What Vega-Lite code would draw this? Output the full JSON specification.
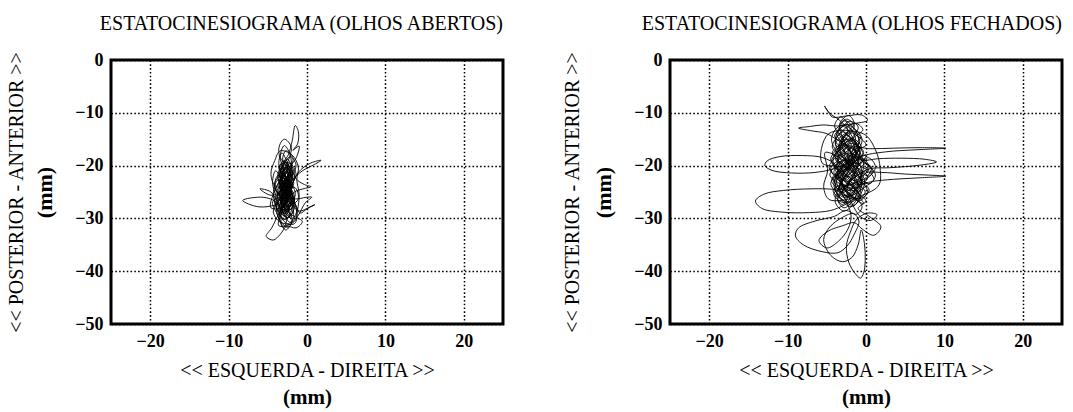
{
  "$schema": "https://vega.github.io/schema/vega-lite/v6.json",
  "background": "white",
  "padding": {"left": 4, "top": 12, "right": 2, "bottom": 0},
  "config": {
    "font": "Liberation Serif",
    "view": {"stroke": "black", "strokeWidth": 3},
    "concat": {"spacing": 55},
    "axis": {
      "labelFont": "Liberation Serif", "labelFontSize": 18, "labelFontWeight": "bold", "labelColor": "black",
      "titleFont": "Liberation Serif", "titleFontSize": 20, "titleFontWeight": "normal", "titleColor": "black",
      "ticks": false, "domain": false, "labelFlush": false, "labelOverlap": false,
      "gridColor": "black", "gridDash": [1.6, 2.2], "gridWidth": 1.5, "gridOpacity": 1, "labelPadding": 8
    }
  },
  "datasets": {
    "oa": [
      {"x":-2.5,"y":-24},{"x":-3.2,"y":-26.5},{"x":-2.1,"y":-28.3},{"x":-1.6,"y":-25.9},{"x":-2.9,"y":-22.4},{"x":-3.6,"y":-20.1},{"x":-2.2,"y":-19.5},{"x":-1.4,"y":-21.8},{"x":-2.7,"y":-24.9},{"x":-3.9,"y":-27.2},{"x":-3.1,"y":-30.1},{"x":-2.0,"y":-29.4},{"x":-1.8,"y":-26.6},{"x":-2.6,"y":-23.0},{"x":-3.4,"y":-21.1},{"x":-2.5,"y":-18.8},{"x":-1.9,"y":-20.7},{"x":-2.3,"y":-23.9},{"x":-3.3,"y":-25.5},{"x":-4.2,"y":-24.0},{"x":-3.6,"y":-22.2},{"x":-2.4,"y":-22.9},{"x":-1.5,"y":-25.2},{"x":-2.2,"y":-27.8},{"x":-3.5,"y":-28.9},{"x":-4.1,"y":-26.3},{"x":-3.0,"y":-24.1},{"x":-2.1,"y":-21.6},{"x":-2.8,"y":-19.9},{"x":-3.7,"y":-21.4},{"x":-3.2,"y":-24.6},{"x":-2.0,"y":-26.2},{"x":-1.3,"y":-28.5},{"x":-2.4,"y":-31.0},{"x":-3.4,"y":-29.6},{"x":-3.9,"y":-27.0},
      {"x":-5.6,"y":-26.0},{"x":-8.2,"y":-26.6},{"x":-6.2,"y":-27.8},{"x":-3.8,"y":-27.3},
      {"x":-2.6,"y":-25.8},{"x":-1.7,"y":-23.4},{"x":-2.3,"y":-20.9},{"x":-3.1,"y":-19.0},{"x":-2.7,"y":-17.2},{"x":-1.8,"y":-18.5},{"x":-2.2,"y":-21.0},{"x":-3.0,"y":-23.7},{"x":-3.8,"y":-25.9},{"x":-3.3,"y":-28.2},{"x":-2.5,"y":-29.9},{"x":-1.6,"y":-28.0},{"x":-1.9,"y":-25.1},{"x":-2.9,"y":-22.7},{"x":-3.6,"y":-24.8},{"x":-2.8,"y":-27.4},{"x":-2.1,"y":-24.4},{"x":-2.6,"y":-21.3},{"x":-3.3,"y":-20.2},
      {"x":-2.4,"y":-18.0},{"x":-1.9,"y":-15.4},{"x":-1.5,"y":-12.4},{"x":-1.1,"y":-13.6},{"x":-1.2,"y":-15.9},{"x":-1.8,"y":-17.1},{"x":-1.0,"y":-16.3},{"x":-1.4,"y":-18.6},{"x":-2.3,"y":-20.4},
      {"x":-2.8,"y":-22.0},{"x":-2.2,"y":-23.5},{"x":-3.0,"y":-24.8},{"x":-2.4,"y":-26.0},{"x":-3.3,"y":-27.1},{"x":-2.6,"y":-28.3},{"x":-1.9,"y":-27.0},{"x":-2.7,"y":-25.6},{"x":-3.5,"y":-24.2},{"x":-2.9,"y":-22.9},{"x":-2.1,"y":-21.7},{"x":-2.8,"y":-20.4},{"x":-3.6,"y":-21.5},{"x":-3.0,"y":-23.1},{"x":-2.3,"y":-24.6},{"x":-1.8,"y":-26.1},{"x":-2.5,"y":-27.5},{"x":-3.2,"y":-26.3},{"x":-3.8,"y":-24.7},{"x":-3.1,"y":-23.4},{"x":-2.4,"y":-22.2},{"x":-1.9,"y":-23.7},{"x":-2.6,"y":-25.2},{"x":-3.4,"y":-26.7},{"x":-2.9,"y":-28.0},{"x":-2.2,"y":-29.2},{"x":-2.8,"y":-30.2},{"x":-3.5,"y":-29.0},{"x":-3.0,"y":-27.6},{"x":-2.3,"y":-26.6},{"x":-2.9,"y":-25.3},{"x":-3.6,"y":-23.8},{"x":-3.1,"y":-22.5},{"x":-2.5,"y":-21.1},{"x":-2.0,"y":-22.6},{"x":-2.7,"y":-24.0},{"x":-3.3,"y":-25.1},{"x":-2.7,"y":-26.4},{"x":-2.0,"y":-25.0},{"x":-2.6,"y":-23.6},{"x":-3.3,"y":-22.1},{"x":-2.9,"y":-20.8},{"x":-2.3,"y":-19.8},{"x":-2.9,"y":-21.6},{"x":-3.5,"y":-23.0},{"x":-4.0,"y":-24.6},{"x":-3.4,"y":-25.8},{"x":-2.8,"y":-27.0},{"x":-2.2,"y":-28.1},{"x":-2.9,"y":-29.1},{"x":-3.6,"y":-28.0},{"x":-3.1,"y":-26.5},{"x":-2.5,"y":-25.1},{"x":-1.9,"y":-24.2},{"x":-2.5,"y":-22.8},{"x":-3.1,"y":-21.3},{"x":-2.6,"y":-20.2},{"x":-2.0,"y":-21.5},{"x":-2.6,"y":-23.2},{"x":-3.2,"y":-24.5},{"x":-3.8,"y":-25.7},{"x":-3.2,"y":-27.2},{"x":-2.6,"y":-28.6},{"x":-2.1,"y":-27.3},{"x":-2.7,"y":-26.0},{"x":-3.3,"y":-24.3},{"x":-2.8,"y":-23.0},{"x":-2.3,"y":-21.8},{"x":-2.9,"y":-20.6},{"x":-3.4,"y":-22.0},{"x":-2.8,"y":-23.8},{"x":-2.2,"y":-25.5},{"x":-2.8,"y":-27.1},{"x":-3.4,"y":-28.5},{"x":-2.9,"y":-29.6},{"x":-2.3,"y":-28.4},{"x":-2.8,"y":-26.8},{"x":-3.5,"y":-25.4},{"x":-3.0,"y":-24.0},{"x":-2.4,"y":-22.6},{"x":-1.8,"y":-21.3},{"x":-2.4,"y":-20.0},{"x":-3.0,"y":-19.1},{"x":-3.5,"y":-20.5},{"x":-3.0,"y":-22.2},{"x":-2.5,"y":-23.9},{"x":-3.1,"y":-25.6},{"x":-3.7,"y":-27.1},{"x":-3.1,"y":-28.5},{"x":-2.5,"y":-27.6},{"x":-1.9,"y":-26.3},{"x":-2.5,"y":-24.9},{"x":-3.1,"y":-23.5},{"x":-3.7,"y":-22.4},{"x":-3.2,"y":-21.1},{"x":-2.6,"y":-22.4},{"x":-2.1,"y":-24.0},{"x":-2.7,"y":-25.8},{"x":-3.3,"y":-27.4},{"x":-2.7,"y":-29.0},{"x":-2.1,"y":-30.0},{"x":-2.6,"y":-28.7},{"x":-3.2,"y":-27.0},{"x":-2.6,"y":-25.4},{"x":-2.0,"y":-23.9},{"x":-2.6,"y":-22.3},{"x":-3.2,"y":-20.9},{"x":-2.7,"y":-19.4},{"x":-2.2,"y":-20.8},{"x":-2.8,"y":-22.7},{"x":-3.4,"y":-24.4},{"x":-2.9,"y":-26.1},{"x":-2.3,"y":-27.7},{"x":-2.9,"y":-28.9},{"x":-3.5,"y":-27.8},{"x":-3.0,"y":-26.2},{"x":-2.4,"y":-24.7},{"x":-2.9,"y":-23.3},{"x":-3.5,"y":-21.8},{"x":-2.9,"y":-20.3},{"x":-2.4,"y":-21.9},{"x":-2.9,"y":-23.6},{"x":-3.4,"y":-25.2},{"x":-2.8,"y":-26.8},{"x":-2.2,"y":-26.0},{"x":-2.7,"y":-24.4},{"x":-3.2,"y":-22.9},{"x":-2.7,"y":-21.4},{"x":-2.2,"y":-22.9},{"x":-2.7,"y":-24.7},{"x":-3.2,"y":-26.5},{"x":-2.7,"y":-28.2},{"x":-2.2,"y":-26.7},{"x":-2.8,"y":-25.0},{"x":-3.3,"y":-23.4},{"x":-2.8,"y":-21.9},{"x":-2.3,"y":-23.4},{"x":-2.8,"y":-25.3},{"x":-3.3,"y":-27.0},{"x":-2.8,"y":-27.9},{"x":-2.4,"y":-26.2},{"x":-2.9,"y":-24.6},{"x":-3.4,"y":-23.2},{"x":-2.9,"y":-22.0},{"x":-2.5,"y":-23.8},{"x":-3.0,"y":-25.7},
      {"x":-3.1,"y":-22.8},{"x":-2.5,"y":-25.7},{"x":-1.5,"y":-27.3},{"x":-0.9,"y":-29.0},{"x":0.0,"y":-28.2},{"x":1.0,"y":-27.4},{"x":0.4,"y":-27.8},{"x":-1.0,"y":-28.6},{"x":-2.2,"y":-27.1},{"x":-3.4,"y":-26.0},{"x":-4.4,"y":-26.9},{"x":-3.8,"y":-29.2},{"x":-3.0,"y":-31.8},{"x":-2.6,"y":-30.2},{"x":-2.9,"y":-27.5},{"x":-2.2,"y":-25.0},{"x":-1.6,"y":-22.5},
      {"x":-0.8,"y":-20.8},{"x":0.5,"y":-19.5},{"x":1.8,"y":-19.0},{"x":0.8,"y":-19.9},{"x":-0.6,"y":-21.0},{"x":-1.9,"y":-22.8},{"x":-2.8,"y":-24.5},{"x":-3.5,"y":-23.3},{"x":-2.9,"y":-21.0},{"x":-2.2,"y":-19.6},{"x":-1.6,"y":-21.9},{"x":-2.4,"y":-25.3},{"x":-3.2,"y":-28.1},{"x":-3.9,"y":-30.0},
      {"x":-4.5,"y":-31.8},{"x":-5.2,"y":-33.4},{"x":-4.3,"y":-34.1},{"x":-3.4,"y":-33.0},{"x":-2.6,"y":-31.5},{"x":-1.4,"y":-31.8},{"x":-0.6,"y":-30.6},{"x":-1.5,"y":-29.7},{"x":-2.3,"y":-28.9},{"x":-2.0,"y":-26.4},{"x":-2.8,"y":-23.6},{"x":-3.7,"y":-21.9},{"x":-4.1,"y":-23.5},{"x":-3.5,"y":-26.0},{"x":-2.6,"y":-27.9},{"x":-1.9,"y":-30.4},{"x":-2.7,"y":-32.2},{"x":-3.3,"y":-30.8},{"x":-3.1,"y":-28.0},{"x":-2.4,"y":-24.6},{"x":-1.8,"y":-22.1},{"x":-2.5,"y":-19.4},{"x":-3.2,"y":-17.6},{"x":-3.6,"y":-19.6},{"x":-3.0,"y":-22.3},{"x":-2.3,"y":-24.8},{"x":-1.6,"y":-26.8},{"x":-2.5,"y":-28.7},{"x":-3.6,"y":-27.3},
      {"x":-4.6,"y":-25.0},{"x":-6.0,"y":-24.4},{"x":-4.7,"y":-25.6},{"x":-3.7,"y":-25.2},{"x":-2.8,"y":-23.4},{"x":-2.0,"y":-21.2},{"x":-1.2,"y":-22.8},{"x":-0.3,"y":-23.6},{"x":0.5,"y":-24.0},{"x":-0.5,"y":-24.4},{"x":-1.6,"y":-25.0},{"x":-2.6,"y":-26.7},{"x":-3.2,"y":-29.0},{"x":-2.4,"y":-29.8},{"x":-1.9,"y":-27.2},{"x":-2.7,"y":-24.2},{"x":-3.5,"y":-22.0},{"x":-3.0,"y":-19.8},{"x":-2.1,"y":-18.3},{"x":-1.4,"y":-19.9},{"x":-2.1,"y":-22.5},{"x":-3.0,"y":-25.0},{"x":-3.9,"y":-28.0},{"x":-3.4,"y":-30.5},{"x":-2.4,"y":-31.7},{"x":-1.7,"y":-29.3},{"x":-2.2,"y":-26.1},{"x":-2.9,"y":-23.3},{"x":-3.7,"y":-22.7},{"x":-4.3,"y":-25.3},{"x":-3.6,"y":-28.6},{"x":-2.8,"y":-26.6},{"x":-2.3,"y":-23.1},{"x":-2.6,"y":-20.1},{"x":-3.4,"y":-18.4},{"x":-2.9,"y":-16.2},{"x":-2.2,"y":-17.7},{"x":-2.0,"y":-20.6},{"x":-2.7,"y":-23.5},{"x":-3.4,"y":-26.4},{"x":-2.9,"y":-29.3},{"x":-2.1,"y":-30.8},{"x":-1.2,"y":-29.6},
      {"x":-0.2,"y":-27.0},{"x":0.6,"y":-26.0},{"x":-0.1,"y":-26.0},{"x":-1.5,"y":-26.3},{"x":-2.6,"y":-25.4},{"x":-3.3,"y":-23.8},{"x":-2.8,"y":-21.8},{"x":-2.3,"y":-24.0},{"x":-2.5,"y":-26.5},{"x":-3.0,"y":-27.9},{"x":-2.6,"y":-25.0},
      {"x":-4.0,"y":-21.0},{"x":-4.4,"y":-23.2},{"x":-3.9,"y":-26.5},{"x":-4.3,"y":-28.8},{"x":-3.5,"y":-30.6},{"x":-1.6,"y":-31.0},{"x":-1.2,"y":-28.4},{"x":-1.0,"y":-25.5},{"x":-1.3,"y":-22.6},{"x":-1.1,"y":-20.3},{"x":-1.9,"y":-18.0},{"x":-3.4,"y":-17.2},{"x":-4.1,"y":-19.0},{"x":-4.6,"y":-21.6},{"x":-4.0,"y":-23.9},{"x":-1.5,"y":-24.2},{"x":-1.2,"y":-26.6},{"x":-4.6,"y":-28.0},{"x":-2.0,"y":-16.6},{"x":-2.9,"y":-15.0},{"x":-3.6,"y":-16.8},{"x":-1.4,"y":-30.2},{"x":-3.6,"y":-31.4},{"x":-2.5,"y":-25.5}
    ],
    "of": [
      {"x":-2.0,"y":-20.0},{"x":-2.8,"y":-17.5},{"x":-1.6,"y":-15.2},{"x":-0.8,"y":-17.9},{"x":-1.9,"y":-21.3},{"x":-3.2,"y":-23.6},{"x":-2.4,"y":-25.9},{"x":-1.2,"y":-24.0},{"x":-0.5,"y":-21.2},{"x":-1.3,"y":-18.6},{"x":-2.6,"y":-16.3},{"x":-3.7,"y":-14.1},{"x":-2.9,"y":-12.6},{"x":-1.8,"y":-14.4},{"x":-1.1,"y":-17.0},{"x":-2.2,"y":-19.4},{"x":-3.4,"y":-21.7},{"x":-3.9,"y":-24.5},{"x":-2.7,"y":-26.8},{"x":-1.5,"y":-27.5},{"x":-0.6,"y":-25.2},{"x":-0.2,"y":-22.6},{"x":-1.4,"y":-20.5},{"x":-2.5,"y":-18.1},{"x":-3.1,"y":-15.6},{"x":-2.3,"y":-13.3},
      {"x":-3.4,"y":-11.4},{"x":-4.7,"y":-10.0},{"x":-5.3,"y":-8.7},{"x":-4.8,"y":-9.8},{"x":-4.3,"y":-10.8},{"x":-2.5,"y":-10.6},{"x":-0.6,"y":-10.4},{"x":0.2,"y":-11.4},{"x":-1.8,"y":-12.1},{"x":-3.6,"y":-12.5},{"x":-5.5,"y":-12.3},{"x":-7.2,"y":-12.6},{"x":-8.6,"y":-12.9},{"x":-7.0,"y":-13.4},{"x":-5.1,"y":-13.9},{"x":-3.6,"y":-15.2},{"x":-2.1,"y":-16.6},
      {"x":-1.5,"y":-20.5},{"x":-0.6,"y":-19.0},{"x":-1.4,"y":-17.3},{"x":-2.5,"y":-16.1},{"x":-3.6,"y":-17.4},{"x":-4.4,"y":-19.2},{"x":-3.5,"y":-20.9},{"x":-2.3,"y":-22.1},{"x":-1.1,"y":-21.0},{"x":0.0,"y":-19.6},{"x":0.8,"y":-21.2},{"x":-0.2,"y":-22.9},{"x":-1.5,"y":-24.3},{"x":-2.9,"y":-23.5},{"x":-4.0,"y":-22.0},{"x":-4.7,"y":-20.3},{"x":-3.9,"y":-18.5},{"x":-2.7,"y":-17.6},{"x":-1.6,"y":-16.2},{"x":-0.7,"y":-14.6},{"x":-1.8,"y":-13.5},{"x":-3.0,"y":-14.3},{"x":-3.9,"y":-15.9},{"x":-3.1,"y":-17.0},{"x":-2.0,"y":-18.2},{"x":-0.9,"y":-19.9},{"x":0.3,"y":-21.0},{"x":1.0,"y":-22.6},{"x":-0.1,"y":-24.0},{"x":-1.3,"y":-25.3},{"x":-2.6,"y":-26.1},{"x":-3.8,"y":-25.0},{"x":-4.5,"y":-23.4},{"x":-3.6,"y":-21.6},{"x":-2.4,"y":-20.4},{"x":-1.2,"y":-19.1},{"x":-0.3,"y":-17.5},{"x":-1.2,"y":-16.0},{"x":-2.4,"y":-15.0},{"x":-3.5,"y":-13.6},{"x":-2.8,"y":-12.4},{"x":-1.6,"y":-13.6},{"x":-0.8,"y":-15.5},{"x":-1.7,"y":-17.2},{"x":-2.9,"y":-18.9},{"x":-4.0,"y":-20.2},{"x":-3.2,"y":-22.3},{"x":-2.0,"y":-23.7},{"x":-0.8,"y":-22.4},{"x":0.4,"y":-20.4},{"x":-0.5,"y":-18.6},{"x":-1.8,"y":-19.7},{"x":-3.0,"y":-21.1},{"x":-4.2,"y":-22.5},{"x":-3.4,"y":-24.2},{"x":-2.2,"y":-25.2},{"x":-1.0,"y":-26.3},{"x":-0.1,"y":-25.0},{"x":-1.1,"y":-23.4},{"x":-2.3,"y":-22.0},{"x":-3.5,"y":-20.6},{"x":-4.5,"y":-18.9},{"x":-3.8,"y":-17.0},{"x":-2.6,"y":-15.7},{"x":-1.4,"y":-14.5},{"x":-0.4,"y":-13.2},{"x":-1.3,"y":-12.0},{"x":-2.6,"y":-12.9},{"x":-3.7,"y":-14.6},{"x":-4.3,"y":-16.5},{"x":-3.3,"y":-18.1},{"x":-2.1,"y":-19.3},{"x":-0.9,"y":-20.6},{"x":0.2,"y":-22.1},{"x":-0.6,"y":-23.8},{"x":-1.9,"y":-24.8},{"x":-3.1,"y":-24.0},{"x":-4.1,"y":-25.4},{"x":-3.3,"y":-26.8},{"x":-2.0,"y":-27.0},{"x":-0.9,"y":-25.7},{"x":-1.8,"y":-24.0},{"x":-3.0,"y":-22.6},{"x":-4.1,"y":-21.3},{"x":-3.3,"y":-19.7},{"x":-2.2,"y":-18.4},{"x":-1.1,"y":-17.0},{"x":0.0,"y":-16.1},{"x":-0.9,"y":-14.6},{"x":-2.0,"y":-13.8},{"x":-3.2,"y":-15.2},{"x":-2.4,"y":-16.9},{"x":-1.3,"y":-18.1},{"x":-0.3,"y":-19.4},{"x":0.7,"y":-20.3},{"x":0.0,"y":-22.3},{"x":-1.2,"y":-23.1},{"x":-2.5,"y":-23.8},{"x":-3.7,"y":-23.1},{"x":-4.6,"y":-21.8},{"x":-3.8,"y":-19.9},{"x":-2.7,"y":-19.0},{"x":-1.5,"y":-20.0},{"x":-0.5,"y":-21.6},{"x":-1.4,"y":-22.8},{"x":-2.7,"y":-21.5},{"x":-3.7,"y":-19.1},{"x":-3.0,"y":-17.2},{"x":-1.9,"y":-15.8},{"x":-0.8,"y":-16.8},{"x":-1.7,"y":-18.4},{"x":-2.9,"y":-20.1},{"x":-3.9,"y":-21.7},{"x":-3.1,"y":-23.3},{"x":-1.9,"y":-24.5},{"x":-0.7,"y":-23.2},{"x":0.4,"y":-24.6},{"x":-0.6,"y":-26.2},{"x":-1.9,"y":-26.0},{"x":-3.0,"y":-25.0},{"x":-2.2,"y":-23.0},{"x":-1.0,"y":-21.8},{"x":0.2,"y":-20.4},{"x":-0.7,"y":-18.2},{"x":-1.9,"y":-16.7},{"x":-3.0,"y":-15.7},{"x":-4.0,"y":-14.4},{"x":-3.2,"y":-12.9},{"x":-2.0,"y":-11.6},{"x":-1.0,"y":-12.7},{"x":-1.8,"y":-14.8},{"x":-2.9,"y":-16.6},{"x":-4.0,"y":-18.0},{"x":-3.2,"y":-19.5},{"x":-2.0,"y":-21.0},{"x":-0.8,"y":-22.5},{"x":0.5,"y":-23.4},{"x":1.2,"y":-21.8},{"x":0.3,"y":-19.9},{"x":-0.9,"y":-18.6},{"x":-2.2,"y":-17.6},{"x":-3.4,"y":-18.8},{"x":-4.5,"y":-20.6},{"x":-3.6,"y":-22.3},{"x":-2.4,"y":-23.0},{"x":-1.3,"y":-24.6},{"x":-2.4,"y":-25.9},{"x":-3.6,"y":-24.4},{"x":-4.4,"y":-22.8},{"x":-3.5,"y":-21.0},{"x":-2.3,"y":-19.6},{"x":-1.1,"y":-18.5},{"x":0.0,"y":-18.0},{"x":-0.8,"y":-19.9},{"x":-2.0,"y":-21.4},{"x":-3.2,"y":-22.9},{"x":-2.5,"y":-24.6},{"x":-1.3,"y":-26.5},{"x":-0.3,"y":-27.2},{"x":-1.1,"y":-25.6},{"x":-2.2,"y":-24.2},{"x":-3.3,"y":-23.7},{"x":-4.2,"y":-24.8},{"x":-3.5,"y":-26.0},{"x":-2.4,"y":-26.8},{"x":-1.5,"y":-25.0},{"x":-0.6,"y":-22.8},{"x":-1.6,"y":-21.2},{"x":-2.8,"y":-20.0},{"x":-3.9,"y":-18.8},{"x":-3.1,"y":-16.4},{"x":-2.0,"y":-15.1},{"x":-0.9,"y":-16.4},{"x":-1.6,"y":-18.9},{"x":-2.7,"y":-20.8},{"x":-3.5,"y":-22.4},{"x":-2.6,"y":-21.2},{"x":-1.5,"y":-19.4},{"x":-0.4,"y":-17.8},{"x":-1.3,"y":-15.6},{"x":-2.5,"y":-14.1},{"x":-3.4,"y":-12.5},{"x":-2.5,"y":-11.2},{"x":-1.5,"y":-12.4},{"x":-2.2,"y":-14.3},{"x":-3.3,"y":-15.9},{"x":-4.3,"y":-17.6},{"x":-3.4,"y":-19.2},{"x":-2.3,"y":-20.9},{"x":-2.1,"y":-16.6},
      {"x":0.5,"y":-16.8},{"x":3.5,"y":-16.7},{"x":7.0,"y":-16.6},{"x":10.2,"y":-16.7},{"x":6.5,"y":-17.0},{"x":2.5,"y":-17.4},{"x":-0.6,"y":-18.3},{"x":-2.0,"y":-20.1},{"x":-3.3,"y":-22.5},{"x":-2.5,"y":-24.8},{"x":-1.1,"y":-23.1},{"x":-0.3,"y":-20.0},{"x":-1.0,"y":-16.8},{"x":-2.4,"y":-14.2},{"x":-3.5,"y":-16.6},{"x":-4.2,"y":-19.3},{"x":-3.1,"y":-21.9},{"x":-1.8,"y":-23.8},{"x":-0.7,"y":-26.0},{"x":-1.9,"y":-27.8},{"x":-3.3,"y":-26.2},{"x":-4.1,"y":-23.4},{"x":-3.0,"y":-20.5},{"x":-1.7,"y":-18.0},{"x":-0.9,"y":-15.3},{"x":-1.6,"y":-12.8},{"x":-2.7,"y":-11.5},{"x":-3.6,"y":-13.4},{"x":-3.9,"y":-16.0},{"x":-2.8,"y":-18.7},{"x":-1.5,"y":-21.0},{"x":-0.4,"y":-23.3},{"x":0.2,"y":-24.9},{"x":-0.9,"y":-26.7},{"x":-2.3,"y":-25.1},{"x":-3.4,"y":-22.8},{"x":-3.8,"y":-20.0},
      {"x":-5.5,"y":-18.5},{"x":-8.2,"y":-18.1},{"x":-11.0,"y":-18.3},{"x":-12.6,"y":-19.1},{"x":-12.9,"y":-20.0},{"x":-12.0,"y":-20.9},{"x":-9.5,"y":-21.4},{"x":-6.5,"y":-21.3},{"x":-4.3,"y":-20.7},{"x":-2.6,"y":-19.7},{"x":-1.3,"y":-18.4},{"x":-0.4,"y":-19.0},
      {"x":1.5,"y":-18.7},{"x":4.5,"y":-18.6},{"x":7.5,"y":-18.8},{"x":9.0,"y":-19.3},{"x":7.0,"y":-19.9},{"x":3.0,"y":-20.4},{"x":0.5,"y":-20.6},{"x":-1.2,"y":-21.9},{"x":-2.3,"y":-23.5},{"x":-3.5,"y":-24.6},{"x":-2.7,"y":-22.0},{"x":-1.9,"y":-19.5},{"x":-2.8,"y":-17.1},{"x":-3.9,"y":-15.3},{"x":-2.9,"y":-13.6},{"x":-1.7,"y":-15.6},{"x":-1.3,"y":-18.2},{"x":-2.1,"y":-20.8},{"x":-3.0,"y":-23.2},{"x":-2.0,"y":-25.7},{"x":-0.8,"y":-24.3},{"x":-0.1,"y":-21.5},
      {"x":2.0,"y":-21.3},{"x":5.0,"y":-21.6},{"x":8.0,"y":-21.8},{"x":10.2,"y":-22.0},{"x":7.0,"y":-22.3},{"x":3.5,"y":-22.6},{"x":0.8,"y":-23.0},{"x":-1.0,"y":-23.6},{"x":-2.6,"y":-22.4},{"x":-3.7,"y":-19.9},{"x":-3.1,"y":-17.8},{"x":-2.0,"y":-16.2},{"x":-0.9,"y":-18.6},{"x":-1.4,"y":-21.4},{"x":-2.5,"y":-24.1},{"x":-3.6,"y":-26.4},{"x":-2.8,"y":-28.0},{"x":-1.6,"y":-26.5},{"x":-1.0,"y":-23.8},{"x":-1.8,"y":-21.0},{"x":-2.9,"y":-18.5},{"x":-3.5,"y":-16.3},{"x":-2.6,"y":-14.0},{"x":-1.5,"y":-12.1},{"x":-2.2,"y":-10.5},{"x":-3.3,"y":-11.9},{"x":-3.0,"y":-14.6},{"x":-2.0,"y":-17.4},{"x":-1.2,"y":-20.1},{"x":-0.6,"y":-22.8},{"x":-1.7,"y":-25.0},{"x":-3.0,"y":-25.6},{"x":-4.0,"y":-23.0},{"x":-3.4,"y":-20.7},{"x":-2.2,"y":-18.9},{"x":-1.0,"y":-19.7},{"x":0.3,"y":-18.5},{"x":1.2,"y":-20.2},{"x":0.4,"y":-22.0},{"x":-0.9,"y":-21.2},{"x":-2.0,"y":-22.7},{"x":-2.7,"y":-25.0},
      {"x":-4.2,"y":-24.5},{"x":-7.0,"y":-24.4},{"x":-10.5,"y":-24.7},{"x":-13.0,"y":-25.4},{"x":-14.1,"y":-26.7},{"x":-13.3,"y":-28.1},{"x":-10.8,"y":-28.8},{"x":-7.2,"y":-28.9},{"x":-4.5,"y":-28.5},{"x":-2.8,"y":-27.5},{"x":-1.4,"y":-26.3},{"x":-0.5,"y":-27.8},{"x":-1.2,"y":-29.2},{"x":-2.6,"y":-28.5},
      {"x":-4.0,"y":-29.6},{"x":-6.5,"y":-30.5},{"x":-8.6,"y":-31.8},{"x":-9.0,"y":-33.3},{"x":-8.0,"y":-35.0},{"x":-5.6,"y":-36.3},{"x":-3.6,"y":-36.5},{"x":-2.4,"y":-35.2},{"x":-1.5,"y":-33.0},{"x":-0.9,"y":-30.5},{"x":-1.6,"y":-29.1},{"x":-3.0,"y":-29.8},{"x":-4.6,"y":-31.6},{"x":-5.4,"y":-34.0},{"x":-4.5,"y":-37.0},{"x":-3.0,"y":-38.2},{"x":-1.8,"y":-37.4},{"x":-1.0,"y":-35.0},{"x":-0.6,"y":-32.2},{"x":-0.2,"y":-34.8},{"x":-0.1,"y":-38.0},{"x":-0.3,"y":-40.3},{"x":-0.7,"y":-41.3},{"x":-1.4,"y":-40.4},{"x":-2.2,"y":-38.3},{"x":-2.5,"y":-35.3},{"x":-2.0,"y":-32.6},{"x":-1.2,"y":-30.2},{"x":0.2,"y":-29.0},{"x":1.4,"y":-29.3},{"x":0.6,"y":-30.4},{"x":-0.7,"y":-29.7},{"x":-1.5,"y":-28.0},
      {"x":-2.3,"y":-25.6},{"x":-3.1,"y":-22.9},{"x":-2.4,"y":-20.2},{"x":-1.2,"y":-17.6},{"x":-0.5,"y":-15.0},{"x":-1.4,"y":-13.1},{"x":-2.6,"y":-12.2},{"x":-3.8,"y":-13.0},{"x":-4.4,"y":-15.1},{"x":-3.6,"y":-17.8},{"x":-2.6,"y":-20.4},{"x":-1.5,"y":-22.5},{"x":-0.7,"y":-24.7},{"x":-1.5,"y":-27.1},{"x":-2.8,"y":-28.6},{"x":-3.9,"y":-27.0},{"x":-3.5,"y":-24.3},{"x":-2.4,"y":-21.6},{"x":-1.3,"y":-19.1},{"x":-0.6,"y":-16.4},{"x":-1.7,"y":-14.9},{"x":-3.0,"y":-15.6},{"x":-3.6,"y":-18.2},{"x":-3.0,"y":-20.9},{"x":-1.9,"y":-23.1},{"x":-0.9,"y":-25.4},{"x":0.0,"y":-26.7},{"x":-1.0,"y":-28.1},
      {"x":0.5,"y":-29.7},{"x":1.9,"y":-31.6},{"x":1.0,"y":-33.2},{"x":-0.5,"y":-32.0},{"x":-1.5,"y":-30.8},{"x":-3.0,"y":-31.4},{"x":-4.8,"y":-32.4},{"x":-6.0,"y":-34.2},{"x":-5.0,"y":-35.6},{"x":-3.5,"y":-34.3},{"x":-2.3,"y":-32.0},{"x":-1.9,"y":-29.5},{"x":-2.5,"y":-26.8},{"x":-3.4,"y":-24.0},{"x":-2.7,"y":-21.3},{"x":-1.6,"y":-18.9},{"x":-2.3,"y":-16.5},{"x":-3.3,"y":-14.4},{"x":-4.0,"y":-12.4},{"x":-3.2,"y":-10.8},{"x":-2.1,"y":-12.7},{"x":-1.3,"y":-15.2},{"x":-1.9,"y":-17.8},{"x":-2.9,"y":-20.2},{"x":-3.8,"y":-22.6},{"x":-3.2,"y":-25.0},{"x":-2.2,"y":-26.9},{"x":-1.2,"y":-25.6},{"x":-0.5,"y":-23.5},{"x":-1.3,"y":-21.0},{"x":-2.4,"y":-19.0},{"x":-3.3,"y":-17.0},{"x":-2.6,"y":-15.0},{"x":-1.6,"y":-16.7},{"x":-1.0,"y":-19.4},{"x":-1.8,"y":-22.0},{"x":-2.8,"y":-24.4},{"x":-3.7,"y":-26.0},{"x":-3.0,"y":-27.4},{"x":-2.0,"y":-24.9},{"x":-1.4,"y":-22.0},{"x":-2.2,"y":-19.8},
      {"x":-5.2,"y":-17.5},{"x":-4.9,"y":-21.0},{"x":-5.4,"y":-24.0},{"x":-4.6,"y":-26.5},{"x":1.5,"y":-24.0},{"x":1.8,"y":-20.5},{"x":1.2,"y":-17.0},{"x":-0.3,"y":-14.0},{"x":-4.8,"y":-14.0},{"x":-5.6,"y":-19.5},{"x":-2.0,"y":-20.0}
    ]
  },
  "hconcat": [
    {
      "width": 392, "height": 264,
      "title": {"text": "ESTATOCINESIOGRAMA (OLHOS ABERTOS)", "anchor": "end", "frame": "group", "fontSize": 20, "fontWeight": "normal", "font": "Liberation Serif", "color": "black", "offset": 17},
      "data": {"name": "oa"},
      "layer": [
        {
          "mark": {"type": "line", "color": "black", "strokeWidth": 0.9, "interpolate": "catmull-rom"},
          "encoding": {
            "x": {"field": "x", "type": "quantitative", "scale": {"domain": [-25, 25], "nice": false, "zero": false},
                  "axis": {"orient": "bottom", "values": [-20, -10, 0, 10, 20], "title": "<< ESQUERDA - DIREITA >>", "titlePadding": 10}},
            "y": {"field": "y", "type": "quantitative", "scale": {"domain": [-50, 0], "nice": false, "zero": false},
                  "axis": {"orient": "left", "values": [-50, -40, -30, -20, -10, 0], "title": "(mm)", "titleFontWeight": "bold", "titleFontSize": 22, "titlePadding": 18}},
            "order": {"value": null}
          }
        },
        {
          "mark": {"type": "point", "opacity": 0},
          "encoding": {
            "x": {"field": "x", "type": "quantitative", "scale": {"domain": [-25, 25], "nice": false, "zero": false},
                  "axis": {"orient": "bottom", "labels": false, "grid": false, "title": "(mm)", "titleFontWeight": "bold", "titleFontSize": 21, "titlePadding": 62}},
            "y": {"field": "y", "type": "quantitative", "scale": {"domain": [-50, 0], "nice": false, "zero": false},
                  "axis": {"orient": "left", "labels": false, "grid": false, "title": "<< POSTERIOR - ANTERIOR >>", "titlePadding": 85}}
          }
        }
      ],
      "resolve": {"axis": {"x": "independent", "y": "independent"}}
    },
    {
      "width": 392, "height": 264,
      "title": {"text": "ESTATOCINESIOGRAMA (OLHOS FECHADOS)", "anchor": "end", "frame": "group", "fontSize": 20, "fontWeight": "normal", "font": "Liberation Serif", "color": "black", "offset": 17},
      "data": {"name": "of"},
      "layer": [
        {
          "mark": {"type": "line", "color": "black", "strokeWidth": 0.9, "interpolate": "catmull-rom"},
          "encoding": {
            "x": {"field": "x", "type": "quantitative", "scale": {"domain": [-25, 25], "nice": false, "zero": false},
                  "axis": {"orient": "bottom", "values": [-20, -10, 0, 10, 20], "title": "<< ESQUERDA - DIREITA >>", "titlePadding": 10}},
            "y": {"field": "y", "type": "quantitative", "scale": {"domain": [-50, 0], "nice": false, "zero": false},
                  "axis": {"orient": "left", "values": [-50, -40, -30, -20, -10, 0], "title": "(mm)", "titleFontWeight": "bold", "titleFontSize": 22, "titlePadding": 18}},
            "order": {"value": null}
          }
        },
        {
          "mark": {"type": "point", "opacity": 0},
          "encoding": {
            "x": {"field": "x", "type": "quantitative", "scale": {"domain": [-25, 25], "nice": false, "zero": false},
                  "axis": {"orient": "bottom", "labels": false, "grid": false, "title": "(mm)", "titleFontWeight": "bold", "titleFontSize": 21, "titlePadding": 62}},
            "y": {"field": "y", "type": "quantitative", "scale": {"domain": [-50, 0], "nice": false, "zero": false},
                  "axis": {"orient": "left", "labels": false, "grid": false, "title": "<< POSTERIOR - ANTERIOR >>", "titlePadding": 88}}
          }
        }
      ],
      "resolve": {"axis": {"x": "independent", "y": "independent"}}
    }
  ]
}
